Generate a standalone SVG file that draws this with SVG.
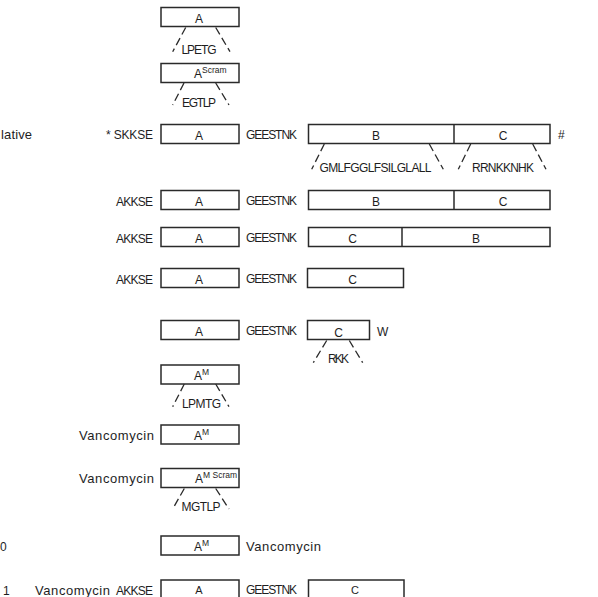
<svg xmlns="http://www.w3.org/2000/svg" width="598" height="597" viewBox="0 0 598 597">
<style>
text{font-family:"Liberation Sans",Arial,sans-serif;font-size:12px;fill:#1e1e1e}
.m{text-anchor:middle}
.e{text-anchor:end}
.lc{font-size:13px}
.sup{font-size:8.5px}
.sm{font-size:11px}
rect,.div{fill:#fff;stroke:#2a2a2a;stroke-width:1.5}
.div{fill:none}
.d{stroke:#2a2a2a;stroke-width:1.3;stroke-dasharray:8 4;fill:none}
</style>
<rect x="0" y="0" width="598" height="597" style="fill:#fff;stroke:none"/>

<g id="row1">
<rect x="161" y="7.5" width="78" height="19"/>
<text class="m" x="199" y="22.5">A</text>
<text class="m" x="199" y="54" textLength="35">LPETG</text>
</g>

<g id="row2">
<rect x="161" y="63.5" width="78" height="19"/>
<text x="194" y="77.5">A<tspan class="sup" dy="-5">Scram</tspan></text>
<text class="m" x="199" y="107" textLength="34">EGTLP</text>
</g>

<g id="row3">
<text x="1" y="138.5" class="lc" textLength="31">lative</text>
<text class="e" x="153" y="139.3" textLength="47">* SKKSE</text>
<rect x="161" y="124.5" width="78" height="19"/>
<text class="m" x="199" y="139.5">A</text>
<text x="246" y="139.3" textLength="51">GEESTNK</text>
<rect x="308.5" y="124.5" width="241.5" height="19"/>
<line class="div" x1="454" y1="124.5" x2="454" y2="143.5"/>
<text class="m" x="376" y="139.5">B</text>
<text class="m" x="503" y="139.5">C</text>
<text x="558" y="139">#</text>
<text class="m" x="375.5" y="171.5" textLength="112">GMLFGGLFSILGLALL</text>
<text class="m" x="503" y="171.5" textLength="62">RRNKKNHK</text>
</g>

<g id="row4">
<text class="e" x="153" y="205.5" textLength="37">AKKSE</text>
<rect x="161" y="190.5" width="78" height="19"/>
<text class="m" x="199" y="205.5">A</text>
<text x="246" y="205.3" textLength="51">GEESTNK</text>
<rect x="308.5" y="190.5" width="241.5" height="19"/>
<line class="div" x1="454" y1="190.5" x2="454" y2="209.5"/>
<text class="m" x="376" y="205.5">B</text>
<text class="m" x="503" y="205.5">C</text>
</g>

<g id="row5">
<text class="e" x="153" y="242.5" textLength="37">AKKSE</text>
<rect x="161" y="227.5" width="78" height="19"/>
<text class="m" x="199" y="242.5">A</text>
<text x="246" y="242.3" textLength="51">GEESTNK</text>
<rect x="308.5" y="227.5" width="241.5" height="19"/>
<line class="div" x1="402" y1="227.5" x2="402" y2="246.5"/>
<text class="m" x="352.5" y="242.5">C</text>
<text class="m" x="476" y="242.5">B</text>
</g>

<g id="row6">
<text class="e" x="153" y="283.5" textLength="37">AKKSE</text>
<rect x="161" y="268.5" width="78" height="19"/>
<text class="m" x="199" y="283.5">A</text>
<text x="246" y="283.3" textLength="51">GEESTNK</text>
<rect x="307.5" y="268.5" width="96" height="19"/>
<text class="m" x="352.5" y="283.5">C</text>
</g>

<g id="row7">
<rect x="161" y="320.5" width="78" height="19"/>
<text class="m" x="199" y="335.5">A</text>
<text x="246" y="335.3" textLength="51">GEESTNK</text>
<rect x="307.5" y="320.5" width="62" height="19"/>
<text class="m" x="338.5" y="337">C</text>
<text x="377" y="336">W</text>
<text class="m" x="338.5" y="362.5" textLength="21">RKK</text>
</g>

<g id="row8">
<rect x="161" y="365" width="78" height="19"/>
<text x="194" y="379.5">A<tspan class="sup" dy="-5">M</tspan></text>
<text class="m" x="201.5" y="408" textLength="39">LPMTG</text>
</g>

<g id="row9">
<text class="e lc" x="154" y="439.5" textLength="75">Vancomycin</text>
<rect x="161" y="425" width="78" height="19"/>
<text x="194" y="439.5">A<tspan class="sup" dy="-5">M</tspan></text>
</g>

<g id="row10">
<text class="e lc" x="154" y="483" textLength="75">Vancomycin</text>
<rect x="161" y="468.5" width="78" height="19"/>
<text x="195" y="483">A<tspan class="sup" dy="-5">M Scram</tspan></text>
<text class="m" x="201" y="511" textLength="39">MGTLP</text>
</g>

<g id="row11">
<text x="0" y="551">0</text>
<rect x="161" y="536" width="78" height="19"/>
<text x="194" y="550.5">A<tspan class="sup" dy="-5">M</tspan></text>
<text x="246" y="551" class="lc" textLength="75">Vancomycin</text>
</g>

<g id="row12">
<text x="3" y="594.5">1</text>
<text x="35" y="594.5" class="lc" textLength="75">Vancomycin</text>
<text class="e" x="153" y="594.5" textLength="37">AKKSE</text>
<rect x="161" y="580" width="78" height="19"/>
<text class="m sm" x="199" y="594">A</text>
<text x="246" y="594" textLength="51">GEESTNK</text>
<rect x="308.5" y="580" width="95.5" height="19"/>
<text class="m sm" x="355" y="594">C</text>
</g>

<g id="connectors">
<line class="d" x1="185.7" y1="27.5" x2="172.7" y2="51.7"/>
<line class="d" x1="215.7" y1="27.5" x2="230" y2="51.7"/>
<line class="d" x1="184" y1="83" x2="172.7" y2="105"/>
<line class="d" x1="215.7" y1="83" x2="229" y2="105"/>
<line class="d" x1="324.3" y1="144" x2="311.7" y2="169.3"/>
<line class="d" x1="429.3" y1="144" x2="443.3" y2="169.3"/>
<line class="d" x1="470.7" y1="144" x2="458.3" y2="169.3"/>
<line class="d" x1="532.7" y1="144" x2="546" y2="169.3"/>
<line class="d" x1="326.7" y1="340.5" x2="313.3" y2="362.7"/>
<line class="d" x1="349.3" y1="340.5" x2="362.7" y2="362.7"/>
<line class="d" x1="184.3" y1="384" x2="172.7" y2="406.7"/>
<line class="d" x1="215.7" y1="384" x2="229" y2="406.7"/>
<line class="d" x1="184.3" y1="488.5" x2="172.7" y2="509"/>
<line class="d" x1="215.7" y1="488.5" x2="229" y2="509"/>
</g>
</svg>
